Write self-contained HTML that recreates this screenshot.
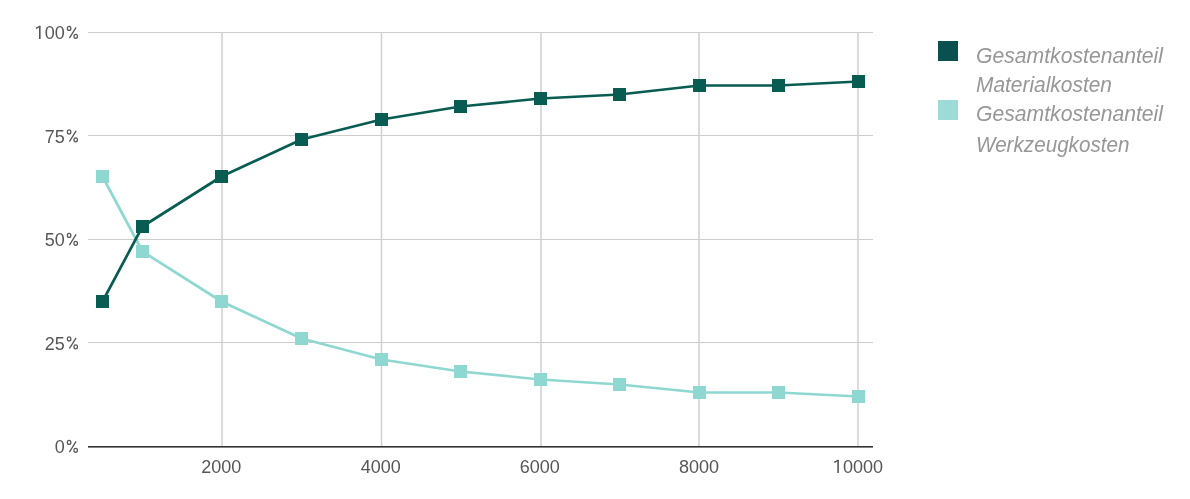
<!DOCTYPE html><html><head><meta charset="utf-8"><style>html,body{margin:0;padding:0;background:#fff;width:1190px;height:499px;overflow:hidden}svg{display:block;will-change:transform}text{font-family:"Liberation Sans",sans-serif}</style></head><body>
<svg width="1190" height="499" viewBox="0 0 1190 499">
<rect width="1190" height="499" fill="#fff"/>
<rect x="88" y="32" width="785" height="1" fill="#cccccc"/>
<rect x="88" y="135" width="785" height="1" fill="#cccccc"/>
<rect x="88" y="239" width="785" height="1" fill="#cccccc"/>
<rect x="88" y="342" width="785" height="1" fill="#cccccc"/>
<rect x="221.25" y="32" width="1.5" height="414" fill="#d0d0d0"/>
<rect x="380.75" y="32" width="1.5" height="414" fill="#d0d0d0"/>
<rect x="540.25" y="32" width="1.5" height="414" fill="#d0d0d0"/>
<rect x="698.25" y="32" width="1.5" height="414" fill="#d0d0d0"/>
<rect x="857.25" y="32" width="1.5" height="414" fill="#d0d0d0"/>
<rect x="88" y="446.00" width="785" height="1.6" fill="#333333"/>
<path d="M39.00,26.00h1.6v13h-1.6z" fill="#575757"/>
<path d="M35.90,28.40L40.30,26.10" stroke="#575757" stroke-width="1.5" fill="none"/>
<text x="44.70" y="39.00" font-size="18" fill="#575757">00</text>
<g fill="none" stroke="#575757" stroke-width="1.25"><ellipse cx="69.10" cy="28.40" rx="1.75" ry="2.0"/><ellipse cx="75.70" cy="36.30" rx="1.75" ry="2.0"/><path d="M69.40,38.10L76.10,27.40"/></g>
<text x="64.70" y="142.50" text-anchor="end" font-size="18" fill="#575757">75</text>
<g fill="none" stroke="#575757" stroke-width="1.25"><ellipse cx="69.10" cy="131.90" rx="1.75" ry="2.0"/><ellipse cx="75.70" cy="139.80" rx="1.75" ry="2.0"/><path d="M69.40,141.60L76.10,130.90"/></g>
<text x="64.70" y="246.00" text-anchor="end" font-size="18" fill="#575757">50</text>
<g fill="none" stroke="#575757" stroke-width="1.25"><ellipse cx="69.10" cy="235.40" rx="1.75" ry="2.0"/><ellipse cx="75.70" cy="243.30" rx="1.75" ry="2.0"/><path d="M69.40,245.10L76.10,234.40"/></g>
<text x="64.70" y="349.50" text-anchor="end" font-size="18" fill="#575757">25</text>
<g fill="none" stroke="#575757" stroke-width="1.25"><ellipse cx="69.10" cy="338.90" rx="1.75" ry="2.0"/><ellipse cx="75.70" cy="346.80" rx="1.75" ry="2.0"/><path d="M69.40,348.60L76.10,337.90"/></g>
<text x="64.70" y="453.00" text-anchor="end" font-size="18" fill="#575757">0</text>
<g fill="none" stroke="#575757" stroke-width="1.25"><ellipse cx="69.10" cy="442.40" rx="1.75" ry="2.0"/><ellipse cx="75.70" cy="450.30" rx="1.75" ry="2.0"/><path d="M69.40,452.10L76.10,441.40"/></g>
<text x="221.20" y="473" text-anchor="middle" font-size="18" fill="#575757">2000</text>
<text x="380.80" y="473" text-anchor="middle" font-size="18" fill="#575757">4000</text>
<text x="539.80" y="473" text-anchor="middle" font-size="18" fill="#575757">6000</text>
<text x="699.00" y="473" text-anchor="middle" font-size="18" fill="#575757">8000</text>
<path d="M837.30,460.00h1.6v13h-1.6z" fill="#575757"/>
<path d="M834.20,462.40L838.60,460.10" stroke="#575757" stroke-width="1.5" fill="none"/>
<text x="843.00" y="473" font-size="18" fill="#575757">0000</text>
<polyline points="102.50,176.50 142.50,251.50 221.50,301.50 301.50,338.50 381.50,359.50 460.50,371.50 540.50,379.50 619.50,384.50 699.50,392.50 778.50,392.50 858.50,396.50" fill="none" stroke="#8fd8d1" stroke-width="2.7" stroke-linejoin="round"/>
<rect x="96" y="170" width="13" height="13" fill="#8fd8d1"/>
<rect x="136" y="245" width="13" height="13" fill="#8fd8d1"/>
<rect x="215" y="295" width="13" height="13" fill="#8fd8d1"/>
<rect x="295" y="332" width="13" height="13" fill="#8fd8d1"/>
<rect x="375" y="353" width="13" height="13" fill="#8fd8d1"/>
<rect x="454" y="365" width="13" height="13" fill="#8fd8d1"/>
<rect x="534" y="373" width="13" height="13" fill="#8fd8d1"/>
<rect x="613" y="378" width="13" height="13" fill="#8fd8d1"/>
<rect x="693" y="386" width="13" height="13" fill="#8fd8d1"/>
<rect x="772" y="386" width="13" height="13" fill="#8fd8d1"/>
<rect x="852" y="390" width="13" height="13" fill="#8fd8d1"/>
<polyline points="102.50,301.50 142.50,226.50 221.50,176.50 301.50,139.50 381.50,119.50 460.50,106.50 540.50,98.50 619.50,94.50 699.50,85.50 778.50,85.50 858.50,81.50" fill="none" stroke="#095c52" stroke-width="2.7" stroke-linejoin="round"/>
<rect x="96" y="295" width="13" height="13" fill="#095c52"/>
<rect x="136" y="220" width="13" height="13" fill="#095c52"/>
<rect x="215" y="170" width="13" height="13" fill="#095c52"/>
<rect x="295" y="133" width="13" height="13" fill="#095c52"/>
<rect x="375" y="113" width="13" height="13" fill="#095c52"/>
<rect x="454" y="100" width="13" height="13" fill="#095c52"/>
<rect x="534" y="92" width="13" height="13" fill="#095c52"/>
<rect x="613" y="88" width="13" height="13" fill="#095c52"/>
<rect x="693" y="79" width="13" height="13" fill="#095c52"/>
<rect x="772" y="79" width="13" height="13" fill="#095c52"/>
<rect x="852" y="75" width="13" height="13" fill="#095c52"/>
<rect x="938" y="41" width="20" height="20" fill="#0b5050"/>
<rect x="938" y="100" width="20" height="20" fill="#9ddbd7"/>
<text x="976" y="62.7" font-size="21.5" font-style="italic" fill="#979797" textLength="187" lengthAdjust="spacingAndGlyphs">Gesamtkostenanteil</text>
<text x="976" y="92.4" font-size="21.5" font-style="italic" fill="#979797" textLength="136" lengthAdjust="spacingAndGlyphs">Materialkosten</text>
<text x="976" y="121.2" font-size="21.5" font-style="italic" fill="#979797" textLength="187" lengthAdjust="spacingAndGlyphs">Gesamtkostenanteil</text>
<text x="976" y="151.5" font-size="21.5" font-style="italic" fill="#979797" textLength="153.5" lengthAdjust="spacingAndGlyphs">Werkzeugkosten</text>
</svg></body></html>
